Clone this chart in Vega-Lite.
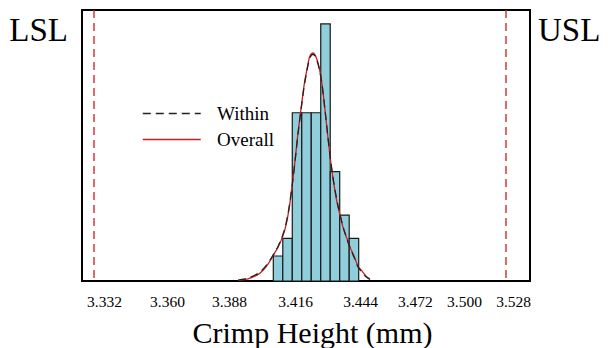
{
  "$schema": "https://vega.github.io/schema/vega-lite/v6.json",
  "width": 448,
  "height": 271,
  "autosize": {"type": "none"},
  "padding": {"left": 82, "top": 10, "right": 81, "bottom": 67},
  "background": "white",
  "config": {
    "view": {"stroke": "black", "strokeWidth": 2},
    "font": "Liberation Serif"
  },
  "datasets": {
    "bins": [
      {"start": 3.406, "end": 3.410, "count": 1.17},
      {"start": 3.410, "end": 3.414, "count": 2.0},
      {"start": 3.414, "end": 3.418, "count": 7.88},
      {"start": 3.418, "end": 3.422, "count": 7.88},
      {"start": 3.422, "end": 3.426, "count": 7.88},
      {"start": 3.426, "end": 3.430, "count": 12.04},
      {"start": 3.430, "end": 3.434, "count": 5.12},
      {"start": 3.434, "end": 3.438, "count": 3.09},
      {"start": 3.438, "end": 3.442, "count": 2.0}
    ],
    "curves": [
      {"series": "Overall", "x": 3.39112, "count": 0.02},
      {"series": "Overall", "x": 3.39407, "count": 0.07},
      {"series": "Overall", "x": 3.39744, "count": 0.19},
      {"series": "Overall", "x": 3.40039, "count": 0.37},
      {"series": "Overall", "x": 3.4025, "count": 0.61},
      {"series": "Overall", "x": 3.40461, "count": 0.94},
      {"series": "Overall", "x": 3.4063, "count": 1.26},
      {"series": "Overall", "x": 3.40798, "count": 1.59},
      {"series": "Overall", "x": 3.40967, "count": 2.01},
      {"series": "Overall", "x": 3.41135, "count": 2.62},
      {"series": "Overall", "x": 3.41262, "count": 3.37},
      {"series": "Overall", "x": 3.41388, "count": 4.40},
      {"series": "Overall", "x": 3.41515, "count": 5.62},
      {"series": "Overall", "x": 3.41641, "count": 6.93},
      {"series": "Overall", "x": 3.41768, "count": 8.06},
      {"series": "Overall", "x": 3.41894, "count": 9.13},
      {"series": "Overall", "x": 3.42021, "count": 9.93},
      {"series": "Overall", "x": 3.42147, "count": 10.54},
      {"series": "Overall", "x": 3.42274, "count": 10.68},
      {"series": "Overall", "x": 3.424, "count": 10.49},
      {"series": "Overall", "x": 3.42527, "count": 10.02},
      {"series": "Overall", "x": 3.42653, "count": 9.23},
      {"series": "Overall", "x": 3.4278, "count": 8.01},
      {"series": "Overall", "x": 3.42906, "count": 6.70},
      {"series": "Overall", "x": 3.43033, "count": 5.48},
      {"series": "Overall", "x": 3.43159, "count": 4.50},
      {"series": "Overall", "x": 3.43285, "count": 3.70},
      {"series": "Overall", "x": 3.43412, "count": 3.09},
      {"series": "Overall", "x": 3.43538, "count": 2.53},
      {"series": "Overall", "x": 3.43665, "count": 2.11},
      {"series": "Overall", "x": 3.43834, "count": 1.59},
      {"series": "Overall", "x": 3.44002, "count": 1.17},
      {"series": "Overall", "x": 3.44171, "count": 0.70},
      {"series": "Overall", "x": 3.44339, "count": 0.47},
      {"series": "Overall", "x": 3.44508, "count": 0.23},
      {"series": "Overall", "x": 3.44677, "count": 0.09},
      {"series": "Within", "x": 3.39112, "count": 0.04},
      {"series": "Within", "x": 3.39407, "count": 0.10},
      {"series": "Within", "x": 3.39744, "count": 0.23},
      {"series": "Within", "x": 3.40039, "count": 0.42},
      {"series": "Within", "x": 3.4025, "count": 0.66},
      {"series": "Within", "x": 3.40461, "count": 0.98},
      {"series": "Within", "x": 3.4063, "count": 1.28},
      {"series": "Within", "x": 3.40798, "count": 1.62},
      {"series": "Within", "x": 3.40967, "count": 2.05},
      {"series": "Within", "x": 3.41135, "count": 2.68},
      {"series": "Within", "x": 3.41262, "count": 3.42},
      {"series": "Within", "x": 3.41388, "count": 4.42},
      {"series": "Within", "x": 3.41515, "count": 5.60},
      {"series": "Within", "x": 3.41641, "count": 6.88},
      {"series": "Within", "x": 3.41768, "count": 8.00},
      {"series": "Within", "x": 3.41894, "count": 9.06},
      {"series": "Within", "x": 3.42021, "count": 9.87},
      {"series": "Within", "x": 3.42147, "count": 10.47},
      {"series": "Within", "x": 3.42274, "count": 10.62},
      {"series": "Within", "x": 3.424, "count": 10.44},
      {"series": "Within", "x": 3.42527, "count": 9.98},
      {"series": "Within", "x": 3.42653, "count": 9.20},
      {"series": "Within", "x": 3.4278, "count": 8.00},
      {"series": "Within", "x": 3.42906, "count": 6.72},
      {"series": "Within", "x": 3.43033, "count": 5.52},
      {"series": "Within", "x": 3.43159, "count": 4.55},
      {"series": "Within", "x": 3.43285, "count": 3.76},
      {"series": "Within", "x": 3.43412, "count": 3.13},
      {"series": "Within", "x": 3.43538, "count": 2.55},
      {"series": "Within", "x": 3.43665, "count": 2.10},
      {"series": "Within", "x": 3.43834, "count": 1.56},
      {"series": "Within", "x": 3.44002, "count": 1.12},
      {"series": "Within", "x": 3.44171, "count": 0.66},
      {"series": "Within", "x": 3.44339, "count": 0.42},
      {"series": "Within", "x": 3.44508, "count": 0.20},
      {"series": "Within", "x": 3.44677, "count": 0.07}
    ],
    "limits": [
      {"label": "LSL", "value": 3.33041},
      {"label": "USL", "value": 3.5041}
    ]
  },
  "layer": [
    {
      "data": {"name": "bins"},
      "mark": {"type": "rect", "fill": "#90cedb", "stroke": "#1a1a1a", "strokeWidth": 1.2},
      "encoding": {
        "x": {
          "field": "start", "type": "quantitative",
          "scale": {"domain": [3.32535, 3.51422], "nice": false, "zero": false},
          "axis": {
            "title": "Crimp Height (mm)",
            "values": [3.3346, 3.3612, 3.3873, 3.4152, 3.4426, 3.4657, 3.4864, 3.5071],
            "labelExpr": "datum.value < 3.35 ? '3.332' : datum.value < 3.375 ? '3.360' : datum.value < 3.40 ? '3.388' : datum.value < 3.43 ? '3.416' : datum.value < 3.455 ? '3.444' : datum.value < 3.476 ? '3.472' : datum.value < 3.497 ? '3.500' : '3.528'",
            "ticks": false, "domain": false, "grid": false,
            "labelFont": "Liberation Serif", "labelFontSize": 15.5, "labelColor": "black",
            "labelPadding": 13, "labelFlush": false, "labelOverlap": false,
            "titleFont": "Liberation Serif", "titleFontSize": 30, "titleFontWeight": "normal",
            "titleColor": "black", "titleX": 230, "titleY": 61, "titleBaseline": "alphabetic"
          }
        },
        "x2": {"field": "end"},
        "y": {
          "field": "count", "type": "quantitative",
          "scale": {"domain": [0, 12.693], "nice": false},
          "axis": null
        },
        "y2": {"datum": 0}
      }
    },
    {
      "data": {"name": "curves"},
      "mark": {"type": "line", "interpolate": "monotone", "strokeWidth": 1.3},
      "encoding": {
        "x": {"field": "x", "type": "quantitative"},
        "y": {"field": "count", "type": "quantitative"},
        "color": {
          "field": "series", "type": "nominal",
          "scale": {"domain": ["Within", "Overall"], "range": ["#222222", "#d11a1a"]},
          "legend": {
            "title": null, "orient": "none", "legendX": 102, "legendY": 94,
            "symbolType": "M-7,0H1", "symbolSize": 210, "symbolStrokeWidth": 1.3,
            "labelFont": "Liberation Serif", "labelFontSize": 19, "labelColor": "black",
            "labelOffset": 14, "rowPadding": 6, "padding": 0
          }
        },
        "strokeDash": {
          "field": "series", "type": "nominal",
          "scale": {"domain": ["Within", "Overall"], "range": [[8, 5], [1, 0]]},
          "legend": {
            "title": null, "orient": "none", "legendX": 102, "legendY": 94,
            "symbolType": "M-7,0H1", "symbolSize": 210, "symbolStrokeWidth": 1.3,
            "labelFont": "Liberation Serif", "labelFontSize": 19, "labelColor": "black",
            "labelOffset": 14, "rowPadding": 6, "padding": 0
          }
        }
      }
    },
    {
      "data": {"name": "limits"},
      "mark": {"type": "rule", "color": "#d11a1a", "strokeDash": [8, 5], "strokeWidth": 1.3},
      "encoding": {
        "x": {"field": "value", "type": "quantitative"}
      }
    },
    {
      "data": {"name": "limits"},
      "transform": [{"filter": "datum.label == 'LSL'"}],
      "mark": {"type": "text", "align": "right", "baseline": "alphabetic", "dx": -26, "dy": 31, "fontSize": 33, "font": "Liberation Serif", "color": "black"},
      "encoding": {
        "x": {"field": "value", "type": "quantitative"},
        "y": {"datum": 12.693, "type": "quantitative"},
        "text": {"field": "label"}
      }
    },
    {
      "data": {"name": "limits"},
      "transform": [{"filter": "datum.label == 'USL'"}],
      "mark": {"type": "text", "align": "left", "baseline": "alphabetic", "dx": 32, "dy": 31, "fontSize": 33, "font": "Liberation Serif", "color": "black"},
      "encoding": {
        "x": {"field": "value", "type": "quantitative"},
        "y": {"datum": 12.693, "type": "quantitative"},
        "text": {"field": "label"}
      }
    }
  ]
}
